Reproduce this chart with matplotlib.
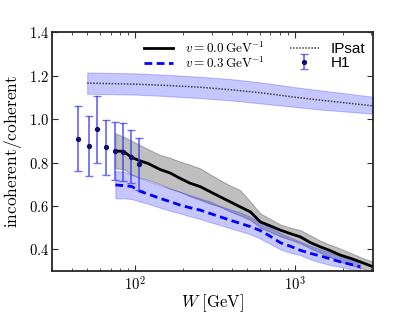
import matplotlib
matplotlib.use("Agg")
import matplotlib.pyplot as plt
from matplotlib.ticker import FuncFormatter, FixedLocator, LogLocator, NullFormatter
import numpy as np

plt.rcParams['mathtext.fontset'] = 'cm'
plt.rcParams['font.family'] = ['Liberation Sans', 'DejaVu Sans']

# ---- data ----
W_v0 = [75, 84, 95, 107, 120, 143, 165, 191, 220, 255, 295, 340, 390, 453, 524,
        560, 604, 700, 807, 930, 1076, 1240, 1434, 1650, 1912, 2200, 2548, 3070]
v0_mid = [0.853, 0.852, 0.824, 0.808, 0.796, 0.768, 0.752, 0.727, 0.705, 0.689, 0.665,
          0.642, 0.620, 0.596, 0.573, 0.552, 0.527, 0.508, 0.489, 0.473, 0.458, 0.432,
          0.412, 0.395, 0.374, 0.360, 0.343, 0.320]
v0_top = [0.935, 0.920, 0.900, 0.880, 0.862, 0.835, 0.822, 0.804, 0.790, 0.773, 0.745,
          0.719, 0.695, 0.673, 0.620, 0.595, 0.566, 0.540, 0.515, 0.500, 0.489, 0.465,
          0.440, 0.422, 0.404, 0.385, 0.365, 0.343]
v0_bot = [0.773, 0.770, 0.745, 0.730, 0.720, 0.700, 0.680, 0.665, 0.645, 0.628, 0.610,
          0.596, 0.575, 0.556, 0.535, 0.520, 0.500, 0.480, 0.460, 0.445, 0.428, 0.405,
          0.385, 0.365, 0.343, 0.330, 0.315, 0.295]

W_v3 = [75, 84, 95, 107, 120, 143, 165, 191, 220, 255, 295, 340, 390, 453, 524,
        604, 700, 807, 930, 1076, 1240, 1434, 1650, 1912, 2200, 2548]
v3_mid = [0.697, 0.694, 0.690, 0.668, 0.655, 0.635, 0.620, 0.604, 0.592, 0.581, 0.565,
          0.550, 0.535, 0.520, 0.505, 0.487, 0.460, 0.431, 0.415, 0.396, 0.382, 0.370,
          0.357, 0.343, 0.332, 0.320]
v3_top = [0.761, 0.758, 0.745, 0.727, 0.715, 0.695, 0.680, 0.665, 0.650, 0.635, 0.620,
          0.600, 0.585, 0.570, 0.550, 0.525, 0.500, 0.475, 0.455, 0.435, 0.418, 0.400,
          0.385, 0.370, 0.355, 0.345]
v3_bot = [0.635, 0.635, 0.632, 0.620, 0.610, 0.592, 0.578, 0.566, 0.552, 0.540, 0.525,
          0.512, 0.498, 0.484, 0.470, 0.450, 0.425, 0.400, 0.385, 0.374, 0.355, 0.340,
          0.328, 0.320, 0.310, 0.300]

W_ip = [50, 100, 150, 255, 400, 600, 1000, 1500, 2000, 3070]
ip_mid = [1.166, 1.161, 1.156, 1.147, 1.135, 1.122, 1.101, 1.086, 1.076, 1.061]
ip_top = [1.215, 1.211, 1.205, 1.195, 1.184, 1.170, 1.147, 1.131, 1.120, 1.103]
ip_bot = [1.117, 1.113, 1.107, 1.097, 1.086, 1.073, 1.056, 1.043, 1.036, 1.025]

W_h1 = [44, 51, 58, 66, 75, 84, 94, 106]
h1_val = [0.910, 0.877, 0.953, 0.870, 0.852, 0.850, 0.827, 0.795]
h1_err = [0.149, 0.139, 0.153, 0.126, 0.133, 0.133, 0.123, 0.120]

xticks = [100, 1000]
yticks = [0.4, 0.6, 0.8, 1.0, 1.2, 1.4]

# ---- figure ----
fig = plt.figure(figsize=(4.15, 3.12), dpi=100)
ax = fig.add_axes([0.1246, 0.131, 0.7744, 0.7655])

ax.fill_between(W_ip, ip_bot, ip_top, color='blue', alpha=0.22, lw=0.8)
ax.fill_between(W_v0, v0_bot, v0_top, color='black', alpha=0.25, lw=0.8)
ax.fill_between(W_v3, v3_bot, v3_top, color='blue', alpha=0.22, lw=0.8)

l0, = ax.plot(W_v0, v0_mid, color='black', lw=2.0,
              label=r'$v = 0.0\,\mathrm{GeV}^{-1}$')
l3, = ax.plot(W_v3, v3_mid, color='blue', lw=2.0, dashes=(2.8, 1.6),
              label=r'$v = 0.3\,\mathrm{GeV}^{-1}$')
lip, = ax.plot(W_ip, ip_mid, color='0.25', lw=1.1, dashes=(1.0, 1.0), label='IPsat')
eb = ax.errorbar(W_h1, h1_val, yerr=h1_err, fmt='o', ms=2.8, color='#101070',
                 ecolor=(0.2, 0.2, 0.95, 0.7), elinewidth=1.3, capsize=3,
                 capthick=1.0, label='H1')

ax.set_xscale('log')
ax.set_xlim(30, 3070)
ax.set_ylim(0.3, 1.4)

ax.xaxis.set_major_locator(FixedLocator(xticks))
ax.xaxis.set_major_formatter(FuncFormatter(lambda v, p: r'$10^{%d}$' % int(round(np.log10(v)))))
ax.xaxis.set_minor_locator(LogLocator(base=10, subs=np.arange(2, 10)))
ax.xaxis.set_minor_formatter(NullFormatter())
ax.yaxis.set_major_locator(FixedLocator(yticks))
ax.yaxis.set_major_formatter(FuncFormatter(lambda v, p: r'$%.1f$' % v))

ax.tick_params(which='both', direction='in', top=True, right=True, labelsize=10.5,
               color='0.2')
ax.tick_params(which='major', length=4, width=0.8)
ax.tick_params(axis='y', which='major', pad=2)
ax.tick_params(axis='x', which='major', pad=3)
ax.tick_params(which='minor', length=2, width=0.6)
for s in ax.spines.values():
    s.set_linewidth(1.3)
    s.set_color('0.15')

ax.set_xlabel(r'$W\ [\mathrm{GeV}]$', fontsize=12, labelpad=-1)
ax.set_ylabel(r'$\mathrm{incoherent/coherent}$', fontsize=12.5, labelpad=3)

leg = ax.legend(handles=[l0, l3, lip, eb], ncol=2, loc='upper right', frameon=False,
                fontsize=10.5, labelspacing=0.0, handlelength=2.0, handletextpad=0.8,
                columnspacing=1.7, numpoints=1, borderaxespad=0.15)
texts = leg.get_texts()
texts[0].set_fontsize(9.5)
texts[1].set_fontsize(9.5)
texts[2].set_fontsize(11)
texts[3].set_fontsize(11)

fig.savefig('out.png', dpi=100)
